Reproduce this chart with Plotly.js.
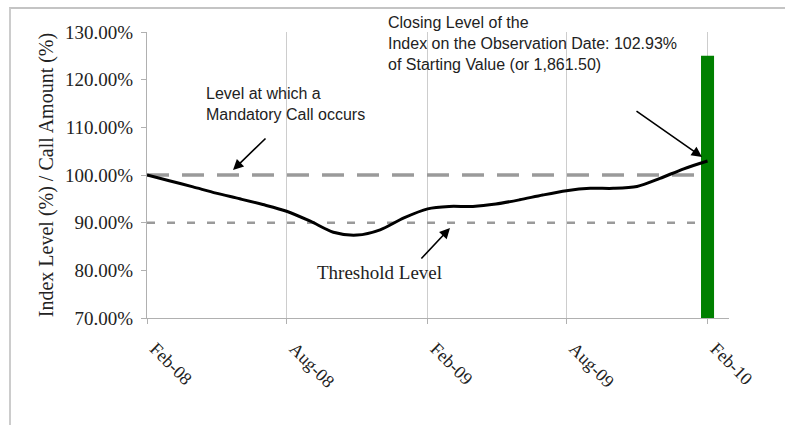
<!DOCTYPE html>
<html>
<head>
<meta charset="utf-8">
<script src="https://cdn.plot.ly/plotly-3.0.1.min.js"></script>
<style>
html,body{margin:0;padding:0;background:#fff;overflow:hidden;}
#wrap{position:relative;width:785px;height:425px;overflow:hidden;}
#chart{width:785px;height:425px;}
#frame{position:absolute;left:9px;top:7px;width:900px;height:600px;border-left:2px solid #cccccc;border-top:2px solid #c4c4c4;pointer-events:none;}
</style>
</head>
<body>
<div id="wrap">
<div id="chart"></div>
<div id="frame"></div>
</div>
<script>
const months = ['2008-02-01','2008-03-01','2008-04-01','2008-05-01','2008-06-01','2008-07-01','2008-08-01','2008-09-01','2008-10-01','2008-11-01','2008-12-01','2009-01-01','2009-02-01','2009-03-01','2009-04-01','2009-05-01','2009-06-01','2009-07-01','2009-08-01','2009-09-01','2009-10-01','2009-11-01','2009-12-01','2010-01-01','2010-02-01'];
const indexLevel = [100, 98.8, 97.5, 96.2, 95.0, 93.8, 92.4, 90.3, 88.0, 87.4, 88.5, 91.0, 92.9, 93.4, 93.4, 93.9, 94.8, 95.8, 96.7, 97.2, 97.2, 97.6, 99.3, 101.3, 102.93];
const mandatoryCallLevel = [100,100,100,100,100,100,100,100,100,100,100,100,100,100,100,100,100,100,100,100,100,100,100,100,100];
const thresholdLevel = [90,90,90,90,90,90,90,90,90,90,90,90,90,90,90,90,90,90,90,90,90,90,90,90,90];
const observationDate = ['2010-02-01'];
const callAmount = [125];
const yTickVals = [70, 80, 90, 100, 110, 120, 130];
const yTickLabels = ['70.00%', '80.00%', '90.00%', '100.00%', '110.00%', '120.00%', '130.00%'];

const serif = 'Liberation Serif, Times New Roman, serif';
const sans = 'Liberation Sans, Arial, sans-serif';

const traces = [
  {x: months, y: mandatoryCallLevel, type: 'scatter', mode: 'lines', xaxis: 'x', yaxis: 'y',
   line: {color: '#9a9a9a', width: 3.5, dash: '22px,13px'}, hoverinfo: 'skip'},
  {x: months, y: thresholdLevel, type: 'scatter', mode: 'lines', xaxis: 'x', yaxis: 'y',
   line: {color: '#9a9a9a', width: 2.5, dash: '8px,12px'}, hoverinfo: 'skip'},
  {x: observationDate, y: callAmount, type: 'bar', xaxis: 'x2', yaxis: 'y2',
   width: 17 * 86400000, marker: {color: '#008000'}},
  {x: months, y: indexLevel, type: 'scatter', mode: 'lines', xaxis: 'x2', yaxis: 'y2',
   line: {color: '#000', width: 3, shape: 'spline', smoothing: 0.8}}
];

const xRange = ['2008-02-01', '2010-03-01'];
const yRange = [70, 130];

const layout = {
  width: 785, height: 425,
  margin: {l: 147, r: 56, t: 32, b: 107},
  paper_bgcolor: '#fff', plot_bgcolor: '#fff',
  showlegend: false,
  xaxis: {
    type: 'date', range: xRange, tick0: '2008-02-01', dtick: 'M6', tickformat: '%b-%y',
    tickangle: 45, showgrid: true, gridcolor: '#cdcdcd', gridwidth: 1,
    showline: true, linecolor: '#b0b0b0', linewidth: 1,
    ticks: 'outside', ticklen: 5, tickcolor: '#b0b0b0', ticklabelstandoff: 7, ticklabelshift: 8,
    tickfont: {family: serif, size: 18, color: '#222'}, zeroline: false, fixedrange: true
  },
  yaxis: {
    range: yRange, tickmode: 'array', tickvals: yTickVals, ticktext: yTickLabels,
    showgrid: false, zeroline: false,
    showline: true, linecolor: '#b0b0b0', linewidth: 1,
    ticks: 'outside', ticklen: 5, tickcolor: '#b0b0b0', ticklabelstandoff: 4,
    tickfont: {family: serif, size: 19, color: '#222'},
    title: {text: 'Index Level (%) / Call Amount (%)', font: {family: serif, size: 20, color: '#222'}, standoff: 6},
    fixedrange: true
  },
  xaxis2: {type: 'date', range: xRange, overlaying: 'x', visible: false, fixedrange: true},
  yaxis2: {range: yRange, overlaying: 'y', visible: false, fixedrange: true},
  annotations: [
    {xref: 'paper', yref: 'paper', x: 0.098, y: 0.748, xanchor: 'left', yanchor: 'middle', align: 'left',
     text: 'Level at which a<br>Mandatory Call occurs', showarrow: false,
     font: {family: sans, size: 16, color: '#222'}},
    {xref: 'paper', yref: 'paper', x: 0.4107, y: 0.9615, xanchor: 'left', yanchor: 'middle', align: 'left',
     text: 'Closing Level of the<br>Index on the Observation Date: 102.93%<br>of Starting Value (or 1,861.50)', showarrow: false,
     font: {family: sans, size: 16, color: '#222'}},
    {xref: 'paper', yref: 'paper', x: 0.2887, y: 0.1608, xanchor: 'left', yanchor: 'middle',
     text: 'Threshold Level', showarrow: false,
     font: {family: serif, size: 19, color: '#222'}},
    {xref: 'paper', yref: 'paper', x: 0.1478, y: 0.5175, ax: 34, ay: -33, text: '', showarrow: true,
     arrowhead: 2, arrowsize: 1.3, arrowwidth: 1.6, arrowcolor: '#000'},
    {xref: 'paper', yref: 'paper', x: 0.9536, y: 0.5629, ax: -67, ay: -47, text: '', showarrow: true,
     arrowhead: 2, arrowsize: 1.3, arrowwidth: 1.6, arrowcolor: '#000'},
    {xref: 'paper', yref: 'paper', x: 0.5206, y: 0.3147, ax: -30, ay: 32, text: '', showarrow: true,
     arrowhead: 2, arrowsize: 1.3, arrowwidth: 1.6, arrowcolor: '#000'}
  ]
};

Plotly.newPlot('chart', traces, layout, {displayModeBar: false, staticPlot: true});
</script>
</body>
</html>
